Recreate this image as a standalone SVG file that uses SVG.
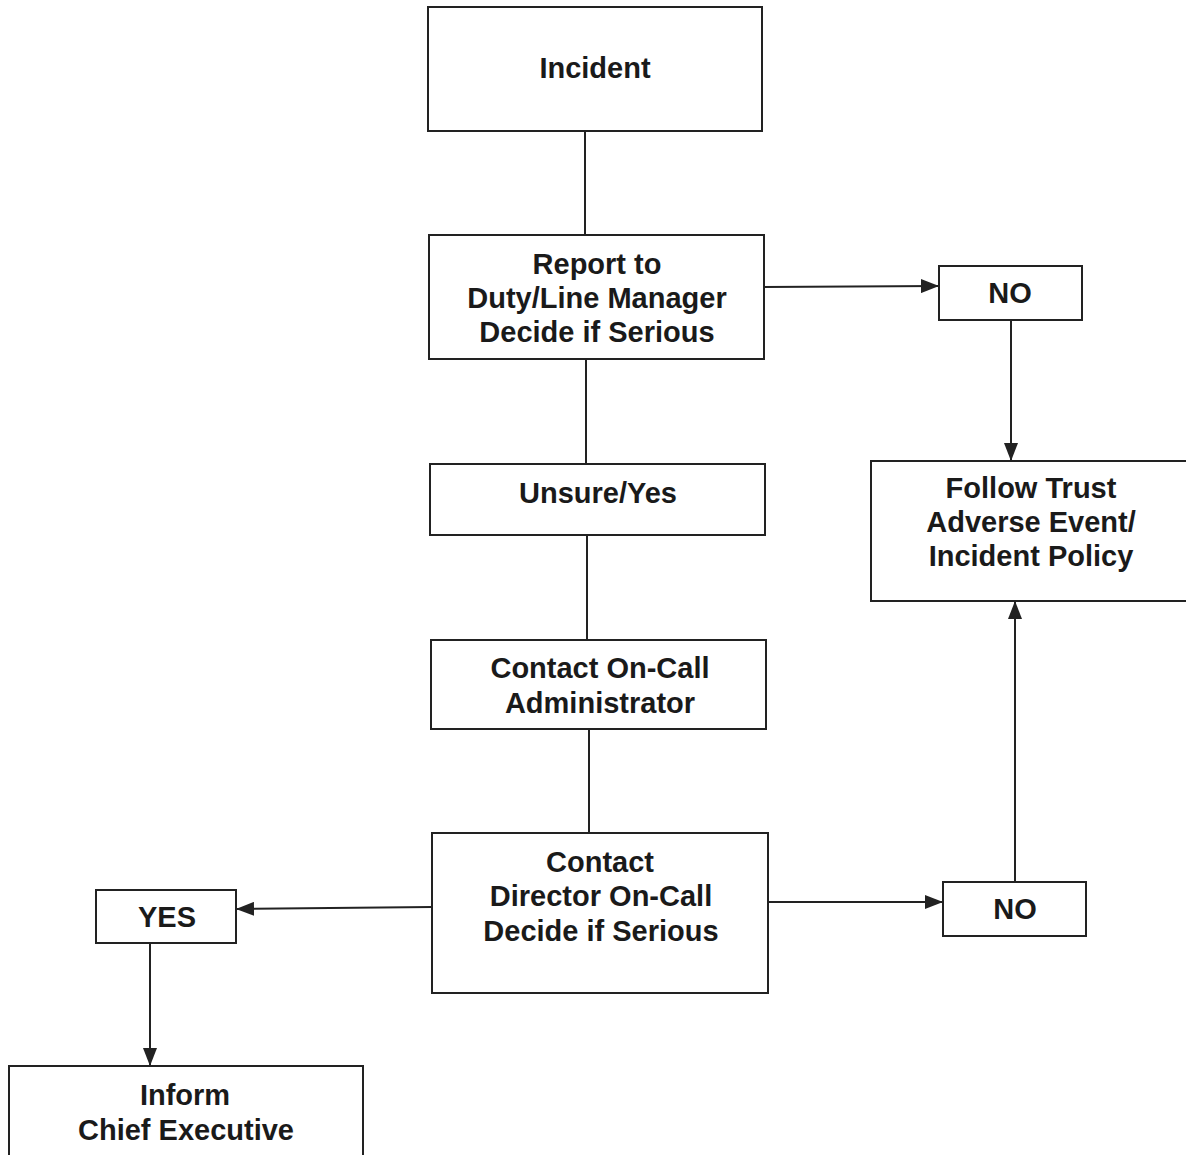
<svg xmlns="http://www.w3.org/2000/svg" width="1186" height="1155" viewBox="0 0 1186 1155">
<style>
.box{fill:#fff;stroke:#222;stroke-width:2}
.t{font-family:"Liberation Sans",Arial,sans-serif;font-weight:bold;font-size:29px;fill:#1a1a1a;text-anchor:middle;dominant-baseline:central}
.c{stroke:#222;stroke-width:2;fill:none}
</style>
<defs>
<marker id="ah" viewBox="0 0 18 14" refX="18" refY="7" markerWidth="18" markerHeight="14" markerUnits="userSpaceOnUse" orient="auto">
<path d="M0,0 L18,7 L0,14 Z" fill="#222"/>
</marker>
</defs>
<rect width="1186" height="1155" fill="#fff"/>
<g id="connectors">
<line class="c" x1="585" y1="131" x2="585" y2="235"/>
<line class="c" x1="586" y1="359" x2="586" y2="464"/>
<line class="c" x1="587" y1="535" x2="587" y2="640"/>
<line class="c" x1="589" y1="729" x2="589" y2="833"/>
<line class="c" x1="764" y1="287" x2="939" y2="286" marker-end="url(#ah)"/>
<line class="c" x1="1011" y1="320" x2="1011" y2="461" marker-end="url(#ah)"/>
<line class="c" x1="768" y1="902" x2="943" y2="902" marker-end="url(#ah)"/>
<line class="c" x1="1015" y1="882" x2="1015" y2="601" marker-end="url(#ah)"/>
<line class="c" x1="432" y1="907" x2="236" y2="909" marker-end="url(#ah)"/>
<line class="c" x1="150" y1="943" x2="150" y2="1066" marker-end="url(#ah)"/>
</g>
<g id="incident"><rect class="box" x="428" y="7" width="334" height="124"/><text class="t" x="595" y="68">Incident</text></g>
<g id="report"><rect class="box" x="429" y="235" width="335" height="124"/>
<text class="t" x="597" y="264">Report to</text><text class="t" x="597" y="298">Duty/Line Manager</text><text class="t" x="597" y="332">Decide if Serious</text></g>
<g id="no1"><rect class="box" x="939" y="266" width="143" height="54"/><text class="t" x="1010" y="293">NO</text></g>
<g id="follow"><rect class="box" x="871" y="461" width="318" height="140"/>
<text class="t" x="1031" y="488">Follow Trust</text><text class="t" x="1031" y="522">Adverse Event/</text><text class="t" x="1031" y="556">Incident Policy</text></g>
<g id="unsure"><rect class="box" x="430" y="464" width="335" height="71"/><text class="t" x="598" y="493">Unsure/Yes</text></g>
<g id="admin"><rect class="box" x="431" y="640" width="335" height="89"/>
<text class="t" x="600" y="668">Contact On-Call</text><text class="t" x="600" y="703">Administrator</text></g>
<g id="director"><rect class="box" x="432" y="833" width="336" height="160"/>
<text class="t" x="600" y="862">Contact</text><text class="t" x="601" y="896">Director On-Call</text><text class="t" x="601" y="931">Decide if Serious</text></g>
<g id="no2"><rect class="box" x="943" y="882" width="143" height="54"/><text class="t" x="1015" y="909">NO</text></g>
<g id="yes"><rect class="box" x="96" y="890" width="140" height="53"/><text class="t" x="167" y="917">YES</text></g>
<g id="inform"><rect class="box" x="9" y="1066" width="354" height="100"/>
<text class="t" x="185" y="1095">Inform</text><text class="t" x="186" y="1130">Chief Executive</text></g>
</svg>
